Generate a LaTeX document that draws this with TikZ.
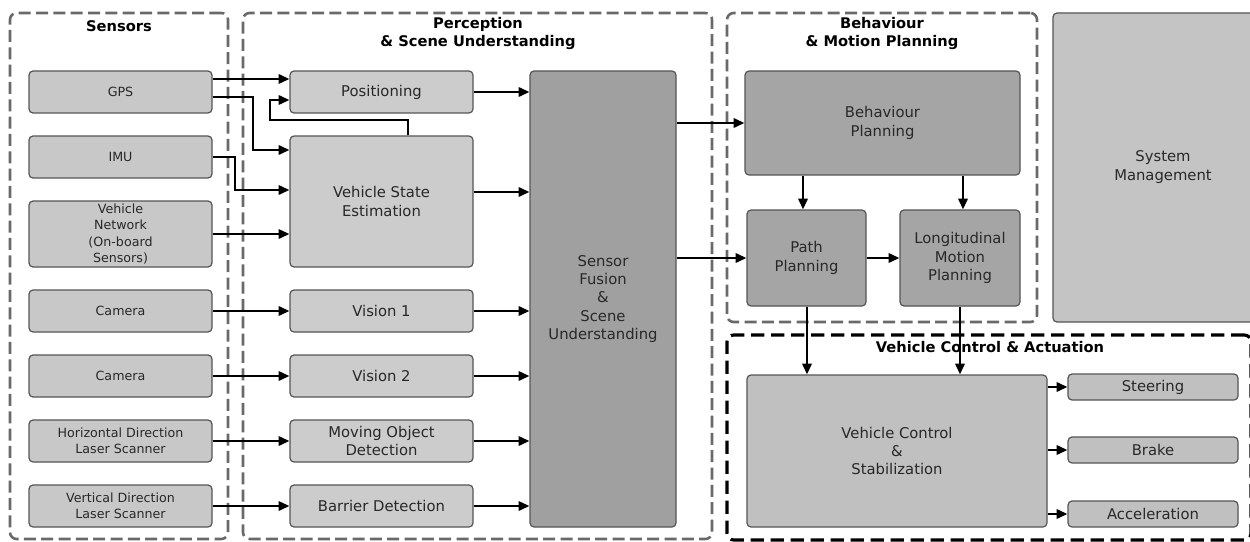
\documentclass[tikz,border=0pt]{standalone}
\usepackage{fontspec}
\setmainfont{DejaVu Sans}
\usetikzlibrary{arrows.meta}

\definecolor{edgegray}{RGB}{85,85,85}
\definecolor{txtgray}{RGB}{40,40,40}
\definecolor{sensfill}{RGB}{200,200,200}
\definecolor{percfill}{RGB}{204,204,204}
\definecolor{fusefill}{RGB}{160,160,160}
\definecolor{planfill}{RGB}{165,165,165}
\definecolor{sysfill}{RGB}{196,196,196}
\definecolor{ctrlfill}{RGB}{192,192,192}
\definecolor{framegray}{RGB}{105,105,105}

\begin{document}
\begin{tikzpicture}[x=0.75pt,y=-0.75pt,
  % a box given by its left, top, right and bottom edges in picture units
  span/.style n args={4}{at={({(#1+#3)/2},{(#2+#4)/2})},
      minimum width={(#3-#1)*0.75pt},minimum height={(#4-#2)*0.75pt}},
  box/.style={draw=edgegray,line width=0.9pt,rounded corners=3pt,inner sep=0pt,
              align=center,text=txtgray,font=\fontsize{11.1}{13.7}\selectfont},
  sbox/.style={box,fill=sensfill,font=\fontsize{9.5}{12.3}\selectfont},
  pbox/.style={box,fill=percfill},
  fbox/.style={box,fill=fusefill},
  plbox/.style={box,fill=planfill},
  cbox/.style={box,fill=ctrlfill},
  frame/.style={draw=framegray,line width=1.9pt,dash pattern=on 9pt off 4pt,
                rounded corners=5pt,inner sep=0pt},
  ctrlframe/.style={draw=black,line width=2.4pt,dash pattern=on 10pt off 5pt,
                rounded corners=5pt,inner sep=0pt},
  title/.style={font=\bfseries\fontsize{11}{13.5}\selectfont,align=center,text=black},
  arr/.style={-{Triangle[length=8pt,width=7pt]},line width=1.5pt}
]
\useasboundingbox (0,0) rectangle (1250,542);
\clip (0,0) rectangle (1250,542);

% group frames
\node[frame,span={10}{13}{228}{539}] (fsens) {};
\node[frame,span={243}{13}{712}{539}] (fperc) {};
\node[frame,span={727}{13}{1037}{322}] (fbeh) {};
\node[ctrlframe,span={727}{335}{1251}{540}] (fctrl) {};

% group titles
\node[title] (tsens) at (119,26) {Sensors};
\node[title] (tperc) at (478,34) {Perception\\\& Scene Understanding};
\node[title] (tbeh) at (882,34) {Behaviour\\\& Motion Planning};
\node[title] (tctrl) at (990,347) {Vehicle Control \& Actuation};

% sensors
\node[sbox,span={29}{71}{212}{113}] (gps) {GPS};
\node[sbox,span={29}{136}{212}{178}] (imu) {IMU};
\node[sbox,span={29}{201}{212}{267}] (vnet) {Vehicle\\Network\\(On-board\\Sensors)};
\node[sbox,span={29}{290}{212}{332}] (cam1) {Camera};
\node[sbox,span={29}{355}{212}{397}] (cam2) {Camera};
\node[sbox,span={29}{420}{212}{462}] (hls) {Horizontal Direction\\Laser Scanner};
\node[sbox,span={29}{485}{212}{527}] (vls) {Vertical Direction\\Laser Scanner};

% perception
\node[pbox,span={290}{71}{473}{113}] (posn) {Positioning};
\node[pbox,span={290}{136}{473}{267}] (vse) {Vehicle State\\Estimation};
\node[pbox,span={290}{290}{473}{332}] (vis1) {Vision 1};
\node[pbox,span={290}{355}{473}{397}] (vis2) {Vision 2};
\node[pbox,span={290}{420}{473}{462}] (mod) {Moving Object\\Detection};
\node[pbox,span={290}{485}{473}{527}] (bar) {Barrier Detection};
\node[fbox,span={530}{71}{676}{527}] (sfu) {Sensor\\Fusion\\\&\\Scene\\Understanding};

% planning
\node[plbox,span={745}{71}{1020}{175}] (bp) {Behaviour\\Planning};
\node[plbox,span={747}{210}{866}{306}] (pp) {Path\\Planning};
\node[plbox,span={900}{210}{1020}{306}] (lmp) {Longitudinal\\Motion\\Planning};
\node[box,fill=sysfill,span={1053}{13}{1262}{322}] (sysm) {};
\node[text=txtgray,align=center,font=\fontsize{11.1}{13.7}\selectfont] (sysmt) at (1163,167) {System\\Management};

% control and actuation
\node[cbox,span={747}{375}{1047}{527}] (vcs) {Vehicle Control\\\&\\Stabilization};
\node[cbox,span={1068}{374}{1238}{400}] (steer) {Steering};
\node[cbox,span={1068}{437}{1238}{463}] (brake) {Brake};
\node[cbox,span={1068}{501}{1238}{527}] (accel) {Acceleration};

% sensor inputs
\draw[arr] (gps.east |- 0,79) -- (posn.west |- 0,79);
\draw[arr] (gps.east |- 0,97) -- (253,97) -- (253,150) -- (vse.west |- 0,150);
\draw[arr] (vse.north -| 408,0) -- (408,120) -- (270,120) -- (270,100) -- (posn.west |- 0,100);
\draw[arr] (imu.east |- 0,157) -- (235,157) -- (235,190) -- (vse.west |- 0,190);
\draw[arr] (vnet.east |- 0,234) -- (vse.west |- 0,234);
\draw[arr] (cam1.east) -- (vis1.west);
\draw[arr] (cam2.east) -- (vis2.west);
\draw[arr] (hls.east) -- (mod.west);
\draw[arr] (vls.east) -- (bar.west);

% into the fusion block
\draw[arr] (posn.east) -- (sfu.west |- posn.east);
\draw[arr] (vse.east |- 0,192) -- (sfu.west |- 0,192);
\draw[arr] (vis1.east) -- (sfu.west |- vis1.east);
\draw[arr] (vis2.east) -- (sfu.west |- vis2.east);
\draw[arr] (mod.east) -- (sfu.west |- mod.east);
\draw[arr] (bar.east) -- (sfu.west |- bar.east);

% planning chain
\draw[arr] (sfu.east |- bp.west) -- (bp.west);
\draw[arr] (sfu.east |- pp.west) -- (pp.west);
\draw[arr] (bp.south -| 803,0) -- (pp.north -| 803,0);
\draw[arr] (bp.south -| 963,0) -- (lmp.north -| 963,0);
\draw[arr] (pp.east) -- (lmp.west);
\draw[arr] (pp.south -| 807,0) -- (vcs.north -| 807,0);
\draw[arr] (lmp.south -| 960,0) -- (vcs.north -| 960,0);

% actuation
\draw[arr] (vcs.east |- steer.west) -- (steer.west);
\draw[arr] (vcs.east |- brake.west) -- (brake.west);
\draw[arr] (vcs.east |- accel.west) -- (accel.west);
\end{tikzpicture}
\end{document}
